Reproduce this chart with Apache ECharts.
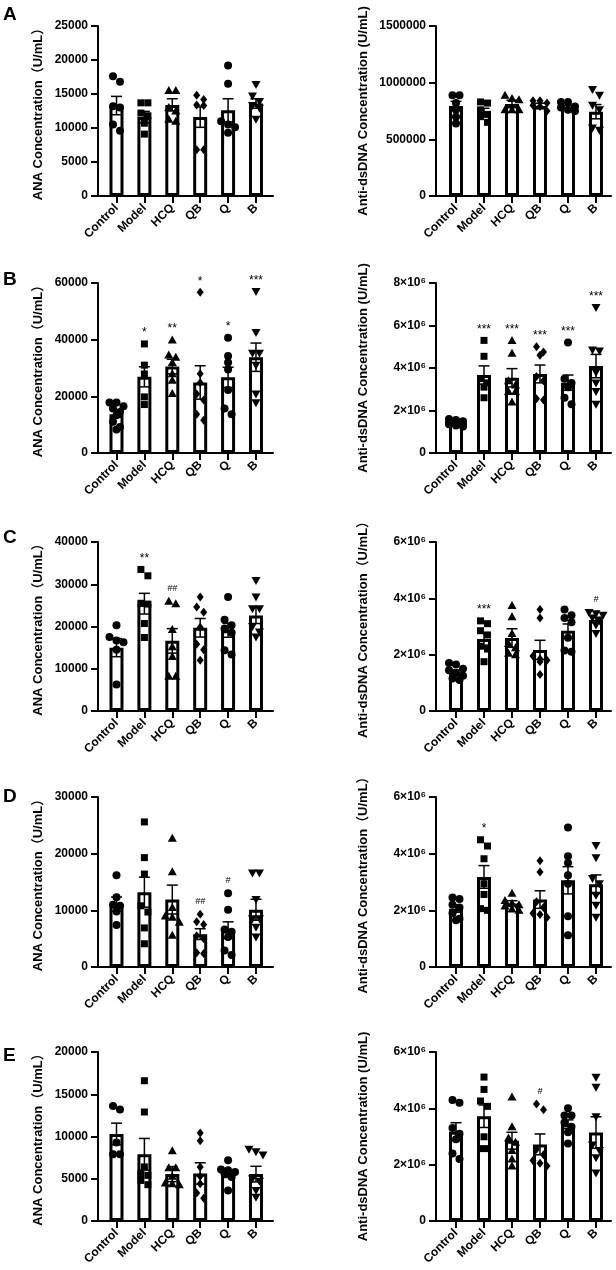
<!DOCTYPE html>
<html>
<head>
<meta charset="utf-8">
<script src="https://cdn.jsdelivr.net/npm/echarts@6/dist/echarts.min.js"></script>
<style>
  html, body { margin: 0; padding: 0; background: #fff; }
  #chart { width: 616px; height: 1270px; }
</style>
</head>
<body>
<div id="chart"></div>
<script>
const groups = ['Control', 'Model', 'HCQ', 'QB', 'Q', 'B']
const symbols = ['circle', 'square', 'triangle', 'diamond', 'circle', 'triangleDown']

// A - ANA
const aAnaMean = [13300, 11600, 13400, 11600, 12600, 13600]
const aAnaSem = [1350, 850, 900, 1500, 1700, 700]
const aAnaPoints = [
  [17600, 16800, 13200, 13000, 10500, 9600],
  [13700, 13700, 12200, 11800, 10700, 9100],
  [15500, 15500, 13000, 12500, 11300, 11000],
  [14800, 14200, 13400, 13300, 6800, 6800],
  [19200, 16500, 11000, 10500, 10100, 9300],
  [16400, 14700, 13900, 13300, 12900, 11300]
]
const aAnaSig = ['', '', '', '', '', '']

// A - anti-dsDNA
const aDsMean = [794000, 744000, 812000, 794000, 782000, 744000]
const aDsSem = [41000, 30000, 33000, 25000, 19000, 63000]
const aDsPoints = [
  [890000, 890000, 820000, 760000, 700000, 640000],
  [830000, 820000, 760000, 720000, 700000, 650000],
  [890000, 860000, 850000, 760000, 760000, 760000],
  [840000, 840000, 820000, 800000, 790000, 750000],
  [830000, 830000, 790000, 780000, 760000, 750000],
  [940000, 890000, 800000, 760000, 600000, 580000]
]
const aDsSig = ['', '', '', '', '', '']

// B - ANA
const bAnaMean = [13700, 26900, 30500, 24900, 26700, 33800]
const bAnaSem = [1100, 3550, 2600, 5900, 3550, 5000]
const bAnaPoints = [
  [17800, 17800, 16500, 15700, 14500, 13300, 11000, 9200, 8300],
  [38500, 31000, 27900, 19800, 17100],
  [39900, 34600, 33800, 31900, 28000, 25700, 21000],
  [56700, 28000, 24800, 20800, 18700, 13700, 11600],
  [40700, 34200, 31900, 29500, 22200, 15700, 13700],
  [57000, 42500, 35200, 35200, 31000, 20800, 17700]
]
const bAnaSig = ['', '*', '**', '*', '*', '***']

// B - anti-dsDNA
const bDsMean = [1.42e6, 3.67e6, 3.54e6, 3.72e6, 3.31e6, 4.09e6]
const bDsSem = [0.06e6, 0.43e6, 0.43e6, 0.42e6, 0.36e6, 0.55e6]
const bDsPoints = [
  [1.60e6, 1.55e6, 1.50e6, 1.45e6, 1.40e6, 1.35e6, 1.35e6, 1.30e6, 1.25e6],
  [5.30e6, 4.55e6, 3.50e6, 3.30e6, 3.10e6, 2.60e6],
  [5.30e6, 4.70e6, 3.40e6, 3.20e6, 2.90e6, 2.90e6, 2.40e6],
  [5.00e6, 4.75e6, 4.60e6, 3.60e6, 3.40e6, 2.55e6, 2.50e6],
  [5.20e6, 3.50e6, 3.30e6, 3.10e6, 2.60e6, 2.30e6],
  [6.85e6, 4.85e6, 4.80e6, 3.80e6, 3.30e6, 2.90e6, 2.30e6]
]
const bDsSig = ['', '***', '***', '***', '***', '***']

// C - ANA
const cAnaMean = [15000, 25400, 16600, 19700, 19100, 22600]
const cAnaSem = [2150, 2450, 2900, 2200, 1650, 1900]
const cAnaPoints = [
  [20300, 17500, 16700, 16300, 14500, 6300],
  [33500, 32000, 25500, 25300, 20700, 17400],
  [26000, 25400, 19300, 15200, 12900, 8200, 8200],
  [27000, 24600, 23400, 19800, 15800, 14500, 12000],
  [27000, 21600, 20300, 19500, 18500, 14400, 13400],
  [30900, 27000, 24200, 24200, 20000, 18700, 17500]
]
const cAnaSig = ['', '**', '##', '', '', '']

// C - anti-dsDNA
const cDsMean = [1.38e6, 2.56e6, 2.59e6, 2.17e6, 2.85e6, 3.23e6]
const cDsSem = [0.08e6, 0.22e6, 0.33e6, 0.34e6, 0.24e6, 0.10e6]
const cDsPoints = [
  [1.70e6, 1.65e6, 1.50e6, 1.45e6, 1.35e6, 1.25e6, 1.15e6, 1.10e6],
  [3.20e6, 3.10e6, 2.85e6, 2.70e6, 2.30e6, 2.20e6, 1.75e6],
  [3.75e6, 3.35e6, 2.75e6, 2.40e6, 2.25e6, 2.05e6, 2.00e6],
  [3.60e6, 3.30e6, 1.95e6, 1.85e6, 1.80e6, 1.75e6, 1.30e6],
  [3.60e6, 3.40e6, 3.30e6, 3.15e6, 2.60e6, 2.15e6, 2.10e6],
  [3.50e6, 3.45e6, 3.40e6, 3.30e6, 3.20e6, 3.05e6, 2.75e6]
]
const cDsSig = ['', '***', '', '', '', '#']

// D - ANA
const dAnaMean = [11100, 13200, 11900, 5800, 6500, 10100]
const dAnaSem = [1250, 2650, 2550, 950, 1470, 1850]
const dAnaPoints = [
  [16200, 12300, 11000, 10800, 9800, 7400],
  [25600, 19300, 16400, 10800, 9700, 6900, 4100],
  [22700, 16800, 10500, 9000, 8800, 7900, 5600],
  [9300, 8000, 7500, 5500, 5000, 2500, 2400],
  [13000, 10100, 6600, 6200, 5300, 2900, 2100],
  [16600, 16600, 11900, 8500, 8500, 7000, 5300]
]
const dAnaSig = ['', '', '', '##', '#', '']

// D - anti-dsDNA
const dDsMean = [2.06e6, 3.18e6, 2.24e6, 2.38e6, 3.06e6, 2.92e6]
const dDsSem = [0.13e6, 0.40e6, 0.10e6, 0.31e6, 0.48e6, 0.33e6]
const dDsPoints = [
  [2.45e6, 2.40e6, 2.20e6, 2.10e6, 1.90e6, 1.70e6, 1.65e6],
  [4.49e6, 4.27e6, 3.82e6, 2.94e6, 2.56e6, 2.06e6, 2.00e6],
  [2.60e6, 2.35e6, 2.25e6, 2.20e6, 2.15e6, 2.05e6, 2.00e6],
  [3.75e6, 3.35e6, 2.30e6, 2.10e6, 1.90e6, 1.85e6, 1.75e6],
  [4.92e6, 3.91e6, 3.67e6, 3.24e6, 2.94e6, 1.79e6, 1.12e6],
  [4.29e6, 3.86e6, 3.12e6, 2.94e6, 2.53e6, 2.18e6, 1.76e6]
]
const dDsSig = ['', '*', '', '', '', '']

// E - ANA
const eAnaMean = [10300, 7900, 5550, 5630, 5550, 5550]
const eAnaSem = [1280, 1870, 890, 1260, 390, 925]
const eAnaPoints = [
  [13600, 13200, 9300, 7900, 7900],
  [16600, 12900, 6400, 5600, 5400, 4800, 4300],
  [8300, 6300, 6300, 5300, 4500, 4400, 4300],
  [10400, 9500, 6400, 5300, 4400, 3300, 2700],
  [7200, 6100, 6000, 5800, 5600, 5200, 3600],
  [8500, 8200, 7800, 5000, 4700, 3600, 2800]
]
const eAnaSig = ['', '', '', '', '', '']

// E - anti-dsDNA
const eDsMean = [3.17e6, 3.72e6, 2.85e6, 2.72e6, 3.44e6, 3.14e6]
const eDsSem = [0.32e6, 0.40e6, 0.30e6, 0.37e6, 0.15e6, 0.56e6]
const eDsPoints = [
  [4.30e6, 4.20e6, 3.30e6, 3.10e6, 2.90e6, 2.40e6, 2.20e6],
  [5.11e6, 4.67e6, 4.26e6, 4.07e6, 2.99e6, 2.57e6, 2.57e6],
  [4.40e6, 3.35e6, 2.95e6, 2.80e6, 2.50e6, 2.20e6, 1.95e6],
  [4.15e6, 3.95e6, 2.55e6, 2.35e6, 2.15e6, 2.05e6, 1.95e6],
  [4.00e6, 3.75e6, 3.75e6, 3.50e6, 3.35e6, 3.15e6, 2.75e6],
  [5.10e6, 4.75e6, 3.70e6, 2.70e6, 2.50e6, 2.25e6, 1.70e6]
]
const eDsSig = ['', '', '', '#', '', '']

// y axis ranges and titles
const anaName = 'ANA Concentration（U/mL）'
const dsName = 'Anti-dsDNA Concentration (U/mL)'
const dsNameWide = 'Anti-dsDNA Concentration（U/mL）'

const panels = [
  { row: 0, col: 0, mean: aAnaMean, sem: aAnaSem, pts: aAnaPoints, sig: aAnaSig, max: 25000, step: 5000, name: anaName, sci: false },
  { row: 0, col: 1, mean: aDsMean, sem: aDsSem, pts: aDsPoints, sig: aDsSig, max: 1500000, step: 500000, name: dsName, sci: false },
  { row: 1, col: 0, mean: bAnaMean, sem: bAnaSem, pts: bAnaPoints, sig: bAnaSig, max: 60000, step: 20000, name: anaName, sci: false },
  { row: 1, col: 1, mean: bDsMean, sem: bDsSem, pts: bDsPoints, sig: bDsSig, max: 8e6, step: 2e6, name: dsName, sci: true },
  { row: 2, col: 0, mean: cAnaMean, sem: cAnaSem, pts: cAnaPoints, sig: cAnaSig, max: 40000, step: 10000, name: anaName, sci: false },
  { row: 2, col: 1, mean: cDsMean, sem: cDsSem, pts: cDsPoints, sig: cDsSig, max: 6e6, step: 2e6, name: dsNameWide, sci: true },
  { row: 3, col: 0, mean: dAnaMean, sem: dAnaSem, pts: dAnaPoints, sig: dAnaSig, max: 30000, step: 10000, name: anaName, sci: false },
  { row: 3, col: 1, mean: dDsMean, sem: dDsSem, pts: dDsPoints, sig: dDsSig, max: 6e6, step: 2e6, name: dsNameWide, sci: true },
  { row: 4, col: 0, mean: eAnaMean, sem: eAnaSem, pts: eAnaPoints, sig: eAnaSig, max: 20000, step: 5000, name: anaName, sci: false },
  { row: 4, col: 1, mean: eDsMean, sem: eDsSem, pts: eDsPoints, sig: eDsSig, max: 6e6, step: 2e6, name: dsName, sci: true }
]
const letters = ['A', 'B', 'C', 'D', 'E']

// layout
const FONT = "'Liberation Sans', Arial, 'Noto Sans CJK SC', sans-serif"
const rowTop = [26, 283, 542, 797, 1052]
const rowHeight = [170, 170, 169, 170, 169]
const letterTop = [5, 270, 528, 787, 1046]
const colLeft = [98, 436]
const colXRange = [[-0.663, 5.61], [-0.714, 5.536]]
const plotWidth = 175

// spread points sideways where they would overlap (GraphPad-like scatter)
function spread(vals, pxPerUnit) {
  const order = vals.map((v, i) => i).sort((a, b) => vals[b] - vals[a])
  const offs = []
  let row = []
  const flush = () => {
    row.forEach((k, j) => { offs[k] = (j - (row.length - 1) / 2) * 7 })
    row = []
  }
  order.forEach(k => {
    if (row.length && (row.length >= 3 || (vals[row[0]] - vals[k]) * pxPerUnit > 6.5)) flush()
    row.push(k)
  })
  flush()
  return offs
}

function marker(sym, x, y) {
  const style = { fill: '#000' }
  if (sym === 'circle') return { type: 'circle', shape: { cx: x, cy: y, r: 4 }, style }
  if (sym === 'square') return { type: 'rect', shape: { x: x - 3.5, y: y - 3.5, width: 7, height: 7 }, style }
  if (sym === 'triangle') return { type: 'polygon', shape: { points: [[x, y - 4.5], [x + 4.5, y + 3.5], [x - 4.5, y + 3.5]] }, style }
  if (sym === 'triangleDown') return { type: 'polygon', shape: { points: [[x - 4.5, y - 3.5], [x + 4.5, y - 3.5], [x, y + 4.5]] }, style }
  return { type: 'polygon', shape: { points: [[x, y - 4.5], [x + 3.5, y], [x, y + 4.5], [x - 3.5, y]] }, style }
}

const grid = [], xAxis = [], yAxis = [], series = []

panels.forEach((p, k) => {
  grid.push({ left: colLeft[p.col], top: rowTop[p.row], width: plotWidth, height: rowHeight[p.row] })
  xAxis.push({
    gridIndex: k, type: 'value', min: colXRange[p.col][0], max: colXRange[p.col][1],
    splitLine: { show: false },
    axisLine: { onZero: false, lineStyle: { color: '#000', width: 2 } },
    axisTick: { show: true, customValues: [0, 1, 2, 3, 4, 5], length: 7, lineStyle: { color: '#000', width: 2 } },
    axisLabel: {
      customValues: [0, 1, 2, 3, 4, 5], rotate: 45, margin: 10,
      formatter: v => groups[Math.round(v)],
      color: '#000', fontWeight: 'bold', fontSize: 12, fontFamily: FONT
    }
  })
  yAxis.push({
    gridIndex: k, type: 'value', min: 0, max: p.max, interval: p.step,
    name: p.name, nameLocation: 'middle', nameGap: p.col === 0 ? 53 : 66,
    nameTextStyle: { color: '#000', fontWeight: 'bold', fontSize: 13, fontFamily: FONT },
    splitLine: { show: false },
    axisLine: { show: true, onZero: false, lineStyle: { color: '#000', width: 2 } },
    axisTick: { show: true, length: 7, lineStyle: { color: '#000', width: 2 } },
    axisLabel: {
      margin: 10, color: '#000', fontWeight: 'bold', fontSize: 12, fontFamily: FONT,
      formatter: v => (p.sci && v !== 0) ? (v / 1e6) + '×10⁶' : String(v)
    }
  })

  series.push({
    type: 'bar', xAxisIndex: k, yAxisIndex: k, z: 1, barWidth: 14,
    data: p.mean.map((m, i) => [i, m]),
    itemStyle: { color: '#fff', borderColor: '#000', borderWidth: 3 },
    silent: true
  })

  series.push({
    type: 'custom', xAxisIndex: k, yAxisIndex: k, z: 3, silent: true,
    data: p.mean.map((m, i) => [i, m, p.sem[i]]),
    renderItem(params, api) {
      const i = api.value(0), m = api.value(1), s = api.value(2)
      const top = api.coord([i, m + s]), bot = api.coord([i, m - s])
      const x = top[0]
      const st = { stroke: '#000', lineWidth: 1.5 }
      return {
        type: 'group',
        children: [
          { type: 'line', shape: { x1: x, y1: top[1], x2: x, y2: bot[1] }, style: st },
          { type: 'line', shape: { x1: x - 5.5, y1: top[1], x2: x + 5.5, y2: top[1] }, style: st },
          { type: 'line', shape: { x1: x - 5.5, y1: bot[1], x2: x + 5.5, y2: bot[1] }, style: st }
        ]
      }
    }
  })

  const pxPerUnit = rowHeight[p.row] / p.max
  const pointData = []
  p.pts.forEach((vals, i) => {
    const offs = spread(vals, pxPerUnit)
    vals.forEach((v, j) => pointData.push([i, v, offs[j]]))
  })
  series.push({
    type: 'custom', xAxisIndex: k, yAxisIndex: k, z: 4, silent: true,
    data: pointData,
    renderItem(params, api) {
      const i = api.value(0)
      const c = api.coord([i, api.value(1)])
      return marker(symbols[i], c[0] + api.value(2), c[1])
    }
  })

  const marks = p.sig.map((s, i) => s ? { i, s, v: Math.max(...p.pts[i]) } : null).filter(Boolean)
  if (marks.length) {
    series.push({
      type: 'custom', xAxisIndex: k, yAxisIndex: k, z: 5, silent: true,
      data: marks.map(o => [o.i, o.v]),
      renderItem(params, api) {
        const o = marks[params.dataIndex]
        const c = api.coord([api.value(0), api.value(1)])
        const hash = o.s.indexOf('#') >= 0
        return {
          type: 'text', x: c[0], y: c[1] - (hash ? 13 : 11),
          style: {
            text: o.s, fill: '#000', align: 'center', verticalAlign: 'middle',
            fontSize: hash ? 9 : 12, fontStyle: hash ? 'italic' : 'normal', fontFamily: FONT
          }
        }
      }
    })
  }
})

const graphic = letters.map((t, r) => ({
  type: 'text', left: 3, top: letterTop[r],
  style: { text: t, fill: '#000', fontSize: 19, fontWeight: 'bold', fontFamily: FONT }
}))

const chart = echarts.init(document.getElementById('chart'), null, { renderer: 'canvas' })
chart.setOption({
  backgroundColor: '#fff',
  animation: false,
  grid, xAxis, yAxis, series, graphic
})
</script>
</body>
</html>
